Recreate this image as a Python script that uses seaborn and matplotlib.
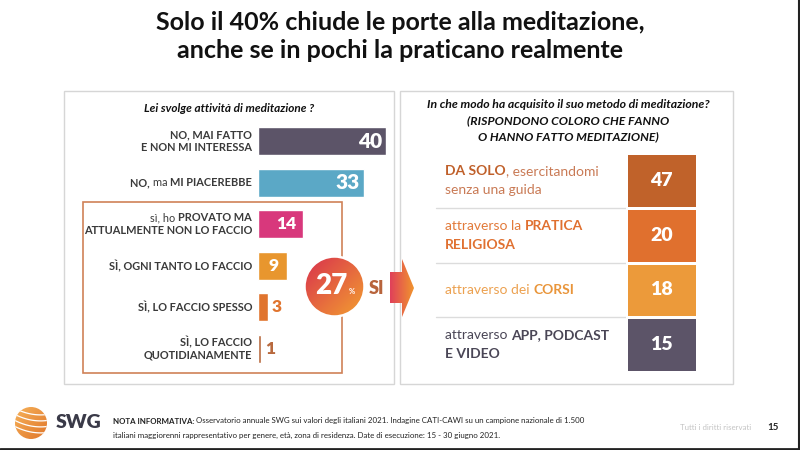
import numpy as np
import pandas as pd
import matplotlib
matplotlib.use("Agg")
import matplotlib.pyplot as plt
import seaborn as sns
from matplotlib.patches import Rectangle, Circle, Polygon
from matplotlib.colors import ListedColormap, LinearSegmentedColormap

# ---------------- data ----------------
title_lines = ["Solo il 40% chiude le porte alla meditazione,",
               "anche se in pochi la praticano realmente"]
left_question = "Lei svolge attività di meditazione ?"
left_categories = ["NO, MAI FATTO E NON MI INTERESSA",
                   "NO, ma MI PIACEREBBE",
                   "sì, ho PROVATO MA ATTUALMENTE NON LO FACCIO",
                   "SÌ, OGNI TANTO LO FACCIO",
                   "SÌ, LO FACCIO SPESSO",
                   "SÌ, LO FACCIO QUOTIDIANAMENTE"]
left_values = [40, 33, 14, 9, 3, 1]
si_label = "SI"
si_share = sum(left_values[2:])  # 27

right_question = ["In che modo ha acquisito il suo metodo di meditazione?",
                  "(RISPONDONO COLORO CHE FANNO",
                  "O HANNO FATTO MEDITAZIONE)"]
right_categories = ["DA SOLO, esercitandomi senza una guida",
                    "attraverso la PRATICA RELIGIOSA",
                    "attraverso dei CORSI",
                    "attraverso APP, PODCAST E VIDEO"]
right_values = [47, 20, 18, 15]

footnote_bold = "NOTA INFORMATIVA:"
footnote_1 = " Osservatorio annuale SWG sui valori degli italiani 2021. Indagine CATI-CAWI su un campione nazionale di 1.500"
footnote_2 = "italiani maggiorenni rappresentativo per genere, età, zona di residenza. Date di esecuzione: 15 - 30 giugno 2021."
rights_text = "Tutti i diritti riservati"
page_number = "15"
logo_text = "SWG"

# ---------------- styles ----------------
left_colors = ["#5c5468", "#5ba8c6", "#d8387c", "#e8962e", "#e0742e", "#b8693e"]
right_colors = ["#c0622a", "#e0702e", "#ec9a3a", "#5c5468"]
B, N = "bold", "normal"
left_runs = [
    [[("NO, MAI FATTO", B)], [("E NON MI INTERESSA", B)]],
    [[("NO, ", B), ("ma ", N), ("MI PIACEREBBE", B)]],
    [[("sì, ho ", N), ("PROVATO MA", B)], [("ATTUALMENTE NON LO FACCIO", B)]],
    [[("SÌ, OGNI TANTO LO FACCIO", B)]],
    [[("SÌ, LO FACCIO SPESSO", B)]],
    [[("SÌ, LO FACCIO", B)], [("QUOTIDIANAMENTE", B)]],
]
right_runs = [
    [[("DA SOLO", B, "#c0602a"), (", esercitandomi", N, "#c97a55")],
     [("senza una guida", N, "#c97a55")]],
    [[("attraverso la ", N, "#e27a3a"), ("PRATICA", B, "#e07030")],
     [("RELIGIOSA", B, "#e07030")]],
    [[("attraverso dei ", N, "#eca150"), ("CORSI", B, "#e9953a")]],
    [[("attraverso ", N, "#4a4656"), ("APP, PODCAST", B, "#4a4656")],
     [("E VIDEO", B, "#4a4656")]],
]

sns.set_style("white")
plt.rcParams["font.family"] = ["Lato", "DejaVu Sans"]

fig = plt.figure(figsize=(8, 4.5), dpi=100)
fig.patch.set_facecolor("white")
bg = fig.add_axes([0, 0, 1, 1])
bg.set_xlim(0, 800)
bg.set_ylim(450, 0)
bg.axis("off")
renderer = fig.canvas.get_renderer()


def text_width(s, size, weight, style="normal"):
    t = bg.text(0, 0, s + "|", fontsize=size, weight=weight, style=style)
    w1 = t.get_window_extent(renderer).width
    t.remove()
    t = bg.text(0, 0, "|", fontsize=size, weight=weight, style=style)
    w2 = t.get_window_extent(renderer).width
    t.remove()
    return w1 - w2


def rich(x, y, runs, size, ha="left", color="#333333", style="normal", zorder=5):
    widths = []
    for r in runs:
        widths.append(text_width(r[0], size, r[1], style))
    total = sum(widths)
    if ha == "left":
        cx = x
    elif ha == "right":
        cx = x - total
    else:
        cx = x - total / 2
    for r, w in zip(runs, widths):
        c = r[2] if len(r) > 2 else color
        bg.text(cx, y, r[0], fontsize=size, weight=r[1], color=c, style=style,
                ha="left", va="center", zorder=zorder)
        cx += w


def to_bg(ax, x, y):
    disp = ax.transData.transform((x, y))
    return bg.transData.inverted().transform(disp)


def reset_bg():
    bg.set_xlim(0, 800)
    bg.set_ylim(450, 0)
    bg.set_aspect("auto")


# ---------------- title ----------------
for i, line in enumerate(title_lines):
    bg.text(400, 22 + i * 28, line, fontsize=18, weight="bold", color="#111111",
            ha="center", va="center")

# ---------------- panels ----------------
bg.add_patch(Rectangle((64, 91), 330, 293, fill=False, ec="#d6d6d6", lw=1.0, zorder=1))
bg.add_patch(Rectangle((400, 91), 333, 293, fill=False, ec="#d6d6d6", lw=1.0, zorder=1))
bg.add_patch(Rectangle((83, 202), 259, 171, fill=False, ec="#cf8158", lw=1.2, zorder=2))

bg.text(229, 108, left_question, fontsize=8.5, weight="bold", style="italic",
        color="#111111", ha="center", va="center")
for i, line in enumerate(right_question):
    bg.text(568, 105 + i * 16, line, fontsize=8.8, weight="bold", style="italic",
            color="#111111", ha="center", va="center")

# ---------------- left bar chart ----------------
ax = fig.add_axes([258 / 800, (450 - 369.8) / 450, 128 / 800, 249.6 / 450])
ax.patch.set_alpha(0)
df_left = pd.DataFrame({"cat": left_categories, "val": left_values})
sns.barplot(data=df_left, x="val", y="cat", hue="cat", palette=left_colors,
            legend=False, width=0.67, saturation=1, orient="h", ax=ax)
ax.set_xlim(0, 40)
ax.set_ylim(5.5, -0.5)
ax.axis("off")

for i, v in enumerate(left_values):
    if v >= 10:
        ax.annotate(str(v), (v, i), xytext=(-3 if v >= 20 else -5, 0),
                    textcoords="offset points", ha="right", va="center",
                    color="white", weight="heavy", fontsize=15 if v >= 20 else 12.5)
    elif v >= 5:
        ax.annotate(str(v), (v / 2, i), xytext=(1, 0), textcoords="offset points",
                    ha="center", va="center", color="white", weight="heavy", fontsize=12.5)
    else:
        ax.annotate(str(v), (v, i), xytext=(3, 0), textcoords="offset points",
                    ha="left", va="center", color=left_colors[i], weight="heavy",
                    fontsize=12.5)

for i, lines in enumerate(left_runs):
    _, yc = to_bg(ax, 0, i)
    n = len(lines)
    for k, runs in enumerate(lines):
        yy = yc + (k - (n - 1) / 2) * 13
        rich(252, yy, runs, 7.9, ha="right", color="#3a3a3a")

# ---------------- 27% circle + arrow ----------------
def gradient_img(c0, c1, n=200, diag=True):
    cmap = LinearSegmentedColormap.from_list("g", [c0, c1])
    xx, yy = np.meshgrid(np.linspace(0, 1, n), np.linspace(0, 1, n))
    g = (xx + yy) / 2 if diag else xx
    return cmap(g)

cx, cy, r = 334.5, 286.5, 30
circ = Circle((cx, cy), r, fc="none", ec="none")
bg.add_patch(circ)
im = bg.imshow(gradient_img("#d8304e", "#f3a030"), extent=(cx - r, cx + r, cy + r, cy - r),
               zorder=6, interpolation="bilinear")
im.set_clip_path(circ)
bg.add_patch(Circle((cx, cy), r, fc="none", ec="white", lw=1.8, zorder=7))
reset_bg()
bg.text(cx - 3, cy, str(si_share), fontsize=20, weight="heavy", color="white",
        ha="center", va="center", zorder=8)
bg.text(cx + 17.5, cy + 5, "%", fontsize=5.5, weight="bold", color="white",
        ha="center", va="center", zorder=8)
bg.text(369, 288, si_label, fontsize=13, weight="heavy", color="#b8643c",
        ha="left", va="center", zorder=8)

arrow_pts = [(390, 272), (402, 272), (402, 259), (414, 288), (402, 317), (402, 303), (390, 303)]
arr = Polygon(arrow_pts, closed=True, fc="none", ec="none")
bg.add_patch(arr)
im2 = bg.imshow(gradient_img("#e0405a", "#f0952e", diag=False), extent=(390, 414, 317, 259),
                zorder=6, interpolation="bilinear")
im2.set_clip_path(arr)
reset_bg()

# ---------------- right panel (value boxes) ----------------
axr = fig.add_axes([626 / 800, (450 - 372) / 450, 71 / 800, 219 / 450])
color_index = np.arange(len(right_values)).reshape(-1, 1)
annot = np.array(right_values).reshape(-1, 1)
sns.heatmap(color_index, cmap=ListedColormap(right_colors), annot=annot, fmt="d",
            cbar=False, linewidths=2, linecolor="white", xticklabels=False,
            yticklabels=False, vmin=-0.5, vmax=len(right_values) - 0.5,
            annot_kws={"color": "white", "weight": "heavy", "fontsize": 14}, ax=axr)

for i in range(1, len(right_values)):
    _, ys = to_bg(axr, 0, i)
    bg.plot([436, 626], [ys, ys], color="#dcdcdc", lw=1, zorder=2)

for i, lines in enumerate(right_runs):
    _, yc = to_bg(axr, 0, i + 0.5)
    n = len(lines)
    for k, runs in enumerate(lines):
        yy = yc + (k - (n - 1) / 2) * 19
        rich(445, yy, runs, 10, ha="left")

# ---------------- footer ----------------
lcx, lcy, lr = 31, 423, 16
logo = Circle((lcx, lcy), lr, fc="none", ec="none")
bg.add_patch(logo)
im3 = bg.imshow(gradient_img("#f6b25a", "#e0762a"), extent=(lcx - lr, lcx + lr, lcy + lr, lcy - lr),
                zorder=3, interpolation="bilinear")
im3.set_clip_path(logo)
t = np.linspace(0, 1, 50)
for off in [-9, -3, 3, 9]:
    xs = lcx - lr + t * 2 * lr
    ys = lcy + off + 6 * (t - 0.5) - 10 * (t - 0.5) ** 2
    ln, = bg.plot(xs, ys, color="white", lw=0.9, zorder=4)
    ln.set_clip_path(logo)
reset_bg()
bg.text(56, 423, logo_text, fontsize=14, weight="heavy", color="#3a3a48",
        ha="left", va="center")

rich(113, 421, [(footnote_bold, B), (footnote_1, N)], 5.7, ha="left", color="#222222")
bg.text(113, 435, footnote_2, fontsize=5.7, color="#222222", ha="left", va="center")
bg.text(680, 428, rights_text, fontsize=5.7, color="#c4c4c4", ha="left", va="center")
bg.text(767, 428, page_number, fontsize=7, weight="bold", color="#222222",
        ha="left", va="center")

bg.plot([0, 800], [448.5, 448.5], color="#222222", lw=2, zorder=9, clip_on=False)
bg.plot([798.5, 798.5], [0, 450], color="#222222", lw=1.5, zorder=9, clip_on=False)

fig.savefig("out.png", dpi=100, facecolor="white")
